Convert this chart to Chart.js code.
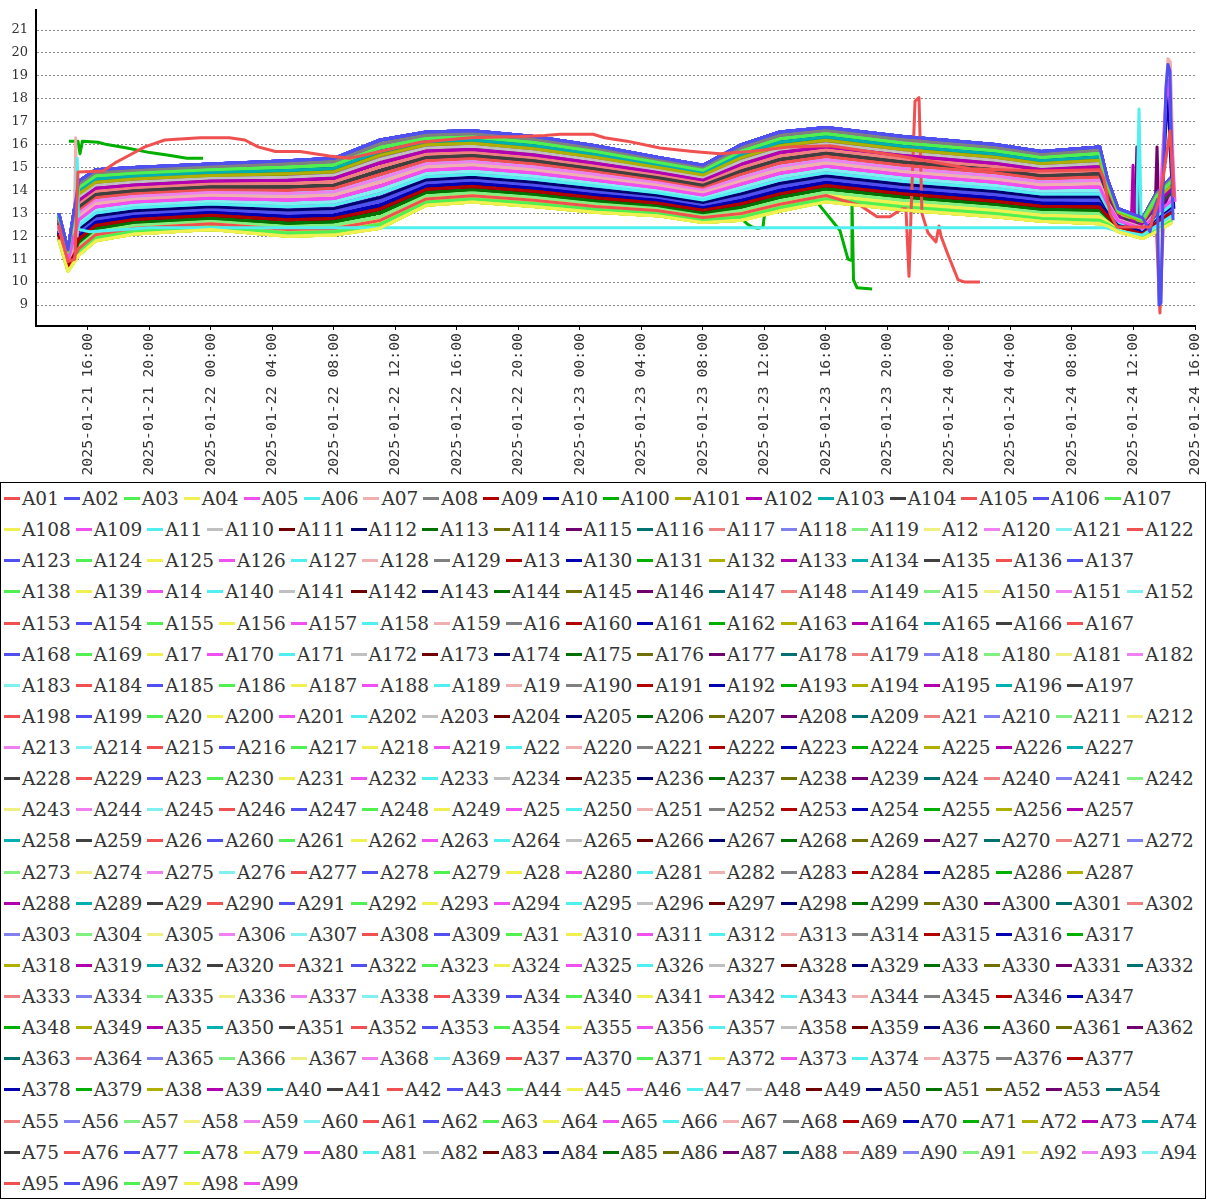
<!DOCTYPE html>
<html>
<head>
<meta charset="utf-8">
<script src="https://cdn.jsdelivr.net/npm/chart.js@4.4.1/dist/chart.umd.min.js"></script>
<style>
  body { margin: 0; background: #fff; }
  #wrap { position: relative; width: 1207px; height: 480px; }
  #legend {
    position: absolute; left: 0; top: 482px; width: 1206px; height: 717px;
    box-sizing: border-box; border: 1px solid #000; padding: 0 0 0 3px;
    display: flex; flex-wrap: wrap; align-content: flex-start;
  }
  #legend .item {
    display: inline-flex; align-items: center; height: 31.14px; margin-right: 5px;
    font-family: 'DejaVu Serif', serif; font-size: 18.5px; color: #333; white-space: nowrap;
  }
  #legend .item i { display: inline-block; width: 16px; height: 3px; margin-right: 2px; }
</style>
</head>
<body>
<div id="wrap"><canvas id="chart" width="1207" height="480"></canvas></div>
<div id="legend"></div>
<script>
// hours counted from 2025-01-21 00:00
const xTickHours = [16, 20, 24, 28, 32, 36, 40, 44, 48, 52, 56, 60, 64, 68, 72, 76, 80, 84, 88];
const xTickLabels = [
  '2025-01-21 16:00', '2025-01-21 20:00', '2025-01-22 00:00', '2025-01-22 04:00', '2025-01-22 08:00',
  '2025-01-22 12:00', '2025-01-22 16:00', '2025-01-22 20:00', '2025-01-23 00:00', '2025-01-23 04:00',
  '2025-01-23 08:00', '2025-01-23 12:00', '2025-01-23 16:00', '2025-01-23 20:00', '2025-01-24 00:00',
  '2025-01-24 04:00', '2025-01-24 08:00', '2025-01-24 12:00', '2025-01-24 16:00'
];
const yTicks = [9, 10, 11, 12, 13, 14, 15, 16, 17, 18, 19, 20, 21];

const palette = [
  '#f05050', '#5050f0', '#50f050', '#f0f050', '#f050f0', '#50f0f0', '#f0b0b0', '#808080',
  '#b00000', '#0000b0', '#00b000', '#b0b000', '#b000b0', '#00b0b0', '#404040',
  '#f05050', '#5050f0', '#50f050', '#f0f050', '#f050f0', '#50f0f0', '#c0c0c0',
  '#700000', '#000070', '#007000', '#707000', '#700070', '#007070',
  '#f08080', '#8080f0', '#80f080', '#f0f080', '#f080f0', '#80f0f0'
];
// which band stripe a series sits in, by its place in the colour cycle
const stripeByColour = [12, 16, 2, 23, 14, 10, 11, 1, 18, 17, 19, 4, 6, 3, 8, 9, 0,
  22, 21, 12, 14, 5, 18, 15, 19, 4, 5, 3, 7, 15, 20, 22, 10, 13];

// the dense band: at each hour, the 24 stripe levels read top to bottom
const bandHours = [14.1, 14.7, 15.4, 16.5, 19, 24, 29, 32, 35, 38, 41, 45, 49, 53, 56, 58.5, 61, 64, 69, 75, 78, 81.8, 82.3, 83.0, 84.6, 85.5, 86.5];
const bandLevels = [
  [13.0, 12.95, 12.9, 12.85, 12.8, 12.75, 12.7, 12.65, 12.6, 12.55, 12.5, 12.45, 12.4, 12.35, 12.3, 12.25, 12.2, 12.15, 12.1, 12.05, 12.0, 11.95, 11.9, 11.85],
  [11.4, 11.36, 11.32, 11.28, 11.24, 11.2, 11.16, 11.12, 11.08, 11.04, 11.0, 10.96, 10.92, 10.88, 10.84, 10.8, 10.76, 10.72, 10.68, 10.64, 10.6, 10.56, 10.52, 10.48],
  [14.4, 14.26, 14.12, 13.98, 13.84, 13.7, 13.56, 13.42, 13.28, 13.14, 13.0, 12.86, 12.72, 12.58, 12.44, 12.3, 12.16, 12.02, 11.88, 11.74, 11.6, 11.46, 11.32, 11.18],
  [14.9, 14.77, 14.63, 14.5, 14.36, 14.23, 14.09, 13.96, 13.82, 13.69, 13.55, 13.42, 13.28, 13.15, 13.01, 12.88, 12.74, 12.61, 12.47, 12.34, 12.2, 12.07, 11.93, 11.8],
  [15.0, 14.87, 14.75, 14.62, 14.5, 14.37, 14.24, 14.12, 13.99, 13.87, 13.74, 13.61, 13.49, 13.36, 13.24, 13.11, 12.98, 12.86, 12.73, 12.61, 12.48, 12.35, 12.23, 12.1],
  [15.15, 15.03, 14.9, 14.78, 14.65, 14.53, 14.41, 14.28, 14.16, 14.03, 13.91, 13.79, 13.66, 13.54, 13.41, 13.29, 13.17, 13.04, 12.92, 12.79, 12.67, 12.55, 12.42, 12.3],
  [15.3, 15.16, 15.01, 14.87, 14.73, 14.58, 14.44, 14.3, 14.15, 14.01, 13.87, 13.72, 13.58, 13.43, 13.29, 13.15, 13.0, 12.86, 12.72, 12.57, 12.43, 12.29, 12.14, 12.0],
  [15.4, 15.25, 15.11, 14.96, 14.82, 14.67, 14.53, 14.38, 14.23, 14.09, 13.94, 13.8, 13.65, 13.51, 13.36, 13.21, 13.07, 12.92, 12.78, 12.63, 12.49, 12.34, 12.2, 12.05],
  [16.2, 16.03, 15.87, 15.7, 15.53, 15.36, 15.2, 15.03, 14.86, 14.69, 14.53, 14.36, 14.19, 14.02, 13.86, 13.69, 13.52, 13.35, 13.19, 13.02, 12.85, 12.69, 12.52, 12.35],
  [16.55, 16.41, 16.27, 16.13, 15.99, 15.85, 15.72, 15.58, 15.44, 15.3, 15.16, 15.02, 14.88, 14.74, 14.6, 14.46, 14.32, 14.19, 14.05, 13.91, 13.77, 13.63, 13.49, 13.35],
  [16.6, 16.47, 16.33, 16.2, 16.06, 15.93, 15.79, 15.66, 15.52, 15.39, 15.25, 15.12, 14.98, 14.85, 14.71, 14.58, 14.44, 14.31, 14.17, 14.04, 13.9, 13.77, 13.63, 13.5],
  [16.35, 16.22, 16.09, 15.95, 15.82, 15.69, 15.55, 15.42, 15.29, 15.16, 15.02, 14.89, 14.76, 14.63, 14.49, 14.36, 14.23, 14.1, 13.96, 13.83, 13.7, 13.57, 13.43, 13.3],
  [15.95, 15.82, 15.7, 15.57, 15.45, 15.32, 15.19, 15.07, 14.94, 14.82, 14.69, 14.56, 14.44, 14.31, 14.19, 14.06, 13.93, 13.81, 13.68, 13.55, 13.43, 13.3, 13.18, 13.05],
  [15.45, 15.34, 15.23, 15.12, 15.01, 14.9, 14.79, 14.67, 14.56, 14.45, 14.34, 14.23, 14.12, 14.01, 13.9, 13.79, 13.68, 13.57, 13.45, 13.34, 13.23, 13.12, 13.01, 12.9],
  [15.1, 14.99, 14.88, 14.77, 14.67, 14.56, 14.45, 14.34, 14.23, 14.12, 14.01, 13.9, 13.8, 13.69, 13.58, 13.47, 13.36, 13.25, 13.14, 13.03, 12.93, 12.82, 12.71, 12.6],
  [16.0, 15.86, 15.71, 15.57, 15.43, 15.28, 15.14, 15.0, 14.85, 14.71, 14.56, 14.42, 14.28, 14.13, 13.99, 13.85, 13.7, 13.56, 13.42, 13.27, 13.13, 12.99, 12.84, 12.7],
  [16.55, 16.4, 16.25, 16.1, 15.95, 15.8, 15.65, 15.5, 15.35, 15.2, 15.05, 14.9, 14.75, 14.6, 14.45, 14.3, 14.15, 14.0, 13.85, 13.7, 13.55, 13.4, 13.25, 13.1],
  [16.75, 16.61, 16.47, 16.33, 16.19, 16.04, 15.9, 15.76, 15.62, 15.48, 15.34, 15.2, 15.05, 14.91, 14.77, 14.63, 14.49, 14.35, 14.21, 14.07, 13.92, 13.78, 13.64, 13.5],
  [16.35, 16.21, 16.07, 15.93, 15.79, 15.65, 15.52, 15.38, 15.24, 15.1, 14.96, 14.82, 14.68, 14.54, 14.4, 14.26, 14.12, 13.99, 13.85, 13.71, 13.57, 13.43, 13.29, 13.15],
  [16.0, 15.86, 15.73, 15.59, 15.45, 15.32, 15.18, 15.04, 14.9, 14.77, 14.63, 14.49, 14.36, 14.22, 14.08, 13.95, 13.81, 13.67, 13.53, 13.4, 13.26, 13.12, 12.99, 12.85],
  [15.7, 15.57, 15.44, 15.3, 15.17, 15.04, 14.9, 14.77, 14.64, 14.51, 14.37, 14.24, 14.11, 13.98, 13.84, 13.71, 13.58, 13.45, 13.31, 13.18, 13.05, 12.92, 12.78, 12.65],
  [15.9, 15.75, 15.61, 15.46, 15.32, 15.17, 15.03, 14.88, 14.73, 14.59, 14.44, 14.3, 14.15, 14.01, 13.86, 13.71, 13.57, 13.42, 13.28, 13.13, 12.99, 12.84, 12.7, 12.55],
  [14.5, 14.41, 14.32, 14.23, 14.14, 14.05, 13.97, 13.88, 13.79, 13.7, 13.61, 13.52, 13.43, 13.34, 13.25, 13.16, 13.07, 12.99, 12.9, 12.81, 12.72, 12.63, 12.54, 12.45],
  [13.2, 13.16, 13.11, 13.07, 13.03, 12.98, 12.94, 12.9, 12.85, 12.81, 12.77, 12.72, 12.68, 12.64, 12.59, 12.55, 12.5, 12.46, 12.42, 12.37, 12.33, 12.29, 12.24, 12.2],
  [12.8, 12.76, 12.72, 12.68, 12.64, 12.6, 12.57, 12.53, 12.49, 12.45, 12.41, 12.37, 12.33, 12.29, 12.25, 12.21, 12.17, 12.14, 12.1, 12.06, 12.02, 11.98, 11.94, 11.9],
  [13.9, 13.83, 13.75, 13.68, 13.6, 13.53, 13.46, 13.38, 13.31, 13.23, 13.16, 13.09, 13.01, 12.94, 12.87, 12.79, 12.72, 12.64, 12.57, 12.5, 12.42, 12.35, 12.27, 12.2],
  [14.6, 14.51, 14.42, 14.34, 14.25, 14.16, 14.08, 13.99, 13.9, 13.82, 13.73, 13.64, 13.56, 13.47, 13.38, 13.3, 13.21, 13.12, 13.04, 12.95, 12.86, 12.78, 12.69, 12.6]
];

// series that leave the band: [hour, value]
const a01Path = [[14.1, 12.5], [14.7, 10.9], [15.15, 11.0], [15.35, 14.8], [16.98, 14.85], [17.76, 15.2], [18.6, 15.5],
  [19.7, 15.9], [21.0, 16.2], [23.3, 16.3], [25.2, 16.3], [26.2, 16.2], [27.06, 15.9], [28.2, 15.7], [29.8, 15.7],
  [31.7, 15.5], [33.0, 15.4], [35.0, 15.7], [37.6, 16.1], [40.85, 16.3], [44.1, 16.35], [45.7, 16.4], [46.7, 16.45],
  [48.85, 16.45], [49.6, 16.3], [51.06, 16.15], [53.2, 15.85], [55.35, 15.7], [57.1, 15.6], [59.06, 15.7], [61.66, 15.9],
  [64.26, 15.95], [68.8, 15.5], [73.37, 14.95], [77.9, 14.85], [81.82, 14.9], [82.08, 14.5], [82.47, 13.0], [82.93, 12.4],
  [85.07, 12.4], [85.53, 13.3], [85.92, 14.5], [86.37, 16.6], [86.63, 13.7]];
const a100Path = [[14.76, 16.15], [15.35, 16.15], [15.48, 15.6], [15.64, 16.15], [16.65, 16.1], [17.24, 16.0],
  [18.54, 15.85], [20.03, 15.65], [21.14, 15.55], [22.44, 15.4], [23.48, 15.4]];
const a06Path = [[14.1, 12.97], [14.7, 11.0], [15.2, 12.0], [15.3, 15.4], [15.4, 12.3], [16.1, 12.2], [20, 12.37],
  [82.2, 12.37], [82.9, 12.25], [84.6, 12.05], [86.5, 12.9]];

const a07Start = [[15.1, 11.5], [15.2, 16.3], [15.3, 12.0]];
const a07End = [[85.72, 13.5], [86.05, 17.5], [86.24, 19.75], [86.4, 19.6], [86.63, 14.0]];
const a02End = [[85.07, 12.2], [85.4, 13.3], [85.56, 13.6], [85.66, 9.0], [85.79, 9.1], [85.92, 14.0], [86.11, 18.5],
  [86.24, 19.5], [86.37, 19.2], [86.57, 12.7]];
const a05End = [[85.72, 13.2], [86.11, 18.0], [86.3, 18.8], [86.5, 16.0], [86.7, 13.5]];
const a10End = [[85.5, 13.0], [85.85, 13.5], [86.11, 17.0], [86.24, 18.2], [86.44, 15.0], [86.63, 13.2]];
const a122End = [[85.07, 12.4], [85.46, 12.9], [85.66, 9.5], [85.72, 8.65], [85.82, 10.5], [85.98, 13.2], [86.24, 14.0], [86.57, 14.8]];
const a11Spike = [[84.2, 12.45], [84.36, 17.55], [84.5, 12.6]];
const a102Spike = [[83.85, 12.3], [83.97, 15.1], [84.08, 12.4]];
const a115Spike1 = [[84.1, 12.3], [84.22, 15.9], [84.34, 12.4]];
const a115Spike2 = [[85.4, 12.9], [85.53, 15.9], [85.66, 12.8]];
const a105Tail = [[66.21, 13.35], [67.32, 12.85], [68.16, 12.85], [68.94, 13.2], [69.2, 13.2], [69.4, 10.25], [69.53, 13.0],
  [69.79, 17.9], [70.05, 18.05], [70.24, 13.0], [70.63, 12.15], [71.15, 11.75], [71.35, 12.45], [71.48, 12.0],
  [71.93, 11.2], [72.59, 10.1], [73.04, 10.0], [74.02, 10.0]];
const a131Tail = [[63.28, 13.6], [64.91, 12.25], [65.43, 11.0], [65.63, 10.95], [65.69, 13.6], [65.79, 10.1], [66.02, 9.75], [67.0, 9.7]];
const a162Dip = [[58.52, 12.75], [58.86, 12.55], [59.19, 12.4], [59.58, 12.35], [59.9, 12.4], [60.03, 13.1]];

const specials = {
  A01: { path: a01Path },
  A100: { path: a100Path },
  A06: { path: a06Path },
  A02: { stripe: 0, pieces: [a02End], cut: true },
  A115: { stripe: 5, pieces: [a115Spike1, a115Spike2] },
  A102: { stripe: 6, pieces: [a102Spike] },
  A122: { stripe: 9, pieces: [a122End], cut: true },
  A07: { stripe: 11, pieces: [a07Start, a07End], cut: true },
  A05: { stripe: 12, pieces: [a05End], cut: true },
  A11: { stripe: 14, pieces: [a11Spike] },
  A10: { stripe: 17, pieces: [a10End], cut: true },
  A105: { stripe: 21, pieces: [a105Tail], cut: true },
  A131: { stripe: 22, pieces: [a131Tail], cut: true },
  A162: { stripe: 23, pieces: [a162Dip] }
};

const names = [];
for (let n = 1; n <= 379; n++) names.push('A' + String(n).padStart(2, '0'));
names.sort();

function stripePoints(k) {
  return bandHours.map((h, i) => ({ x: h, y: bandLevels[i][k] }));
}

function seriesData(name, i) {
  const s = specials[name];
  if (s && s.path) return s.path.map(([x, y]) => ({ x, y }));
  let pts = stripePoints(s ? s.stripe : stripeByColour[i % palette.length]);
  if (s) {
    s.pieces.forEach((piece, j) => {
      const x0 = piece[0][0], x1 = piece[piece.length - 1][0];
      const last = s.cut && j === s.pieces.length - 1;
      pts = pts.filter(p => p.x < x0 || (!last && p.x > x1));
      pts = pts.concat(piece.map(([x, y]) => ({ x, y })));
    });
    pts.sort((a, b) => a.x - b.x);
  }
  return pts;
}

const datasets = names.map((name, i) => ({
  label: name,
  data: seriesData(name, i),
  borderColor: palette[i % palette.length],
  backgroundColor: palette[i % palette.length],
  borderWidth: 3,
  borderJoinStyle: 'round',
  pointRadius: 0,
  fill: false,
  tension: 0
}));

const htmlLegend = {
  id: 'htmlLegend',
  afterUpdate(chart) {
    const box = document.getElementById('legend');
    box.innerHTML = '';
    chart.options.plugins.legend.labels.generateLabels(chart).forEach(item => {
      const el = document.createElement('span');
      el.className = 'item';
      const mark = document.createElement('i');
      mark.style.background = item.strokeStyle;
      el.appendChild(mark);
      el.appendChild(document.createTextNode(item.text));
      box.appendChild(el);
    });
  }
};

Chart.defaults.color = '#333';

new Chart(document.getElementById('chart'), {
  type: 'line',
  data: { datasets },
  plugins: [htmlLegend],
  options: {
    responsive: false,
    animation: false,
    events: [],
    layout: { padding: { top: 10, right: 12, left: 0, bottom: 0 } },
    plugins: { legend: { display: false }, tooltip: { enabled: false } },
    scales: {
      x: {
        type: 'linear',
        min: 12.62,
        max: 88,
        afterBuildTicks: (scale) => { scale.ticks = xTickHours.map(v => ({ value: v })); },
        afterFit: (scale) => {
          scale.height = 154;
          scale.paddingLeft = 0;
          scale.paddingRight = 0;
        },
        ticks: {
          autoSkip: false,
          minRotation: 90,
          maxRotation: 90,
          padding: 3,
          font: { family: 'DejaVu Sans Mono', size: 14.8 },
          callback: (v) => xTickLabels[xTickHours.indexOf(v)]
        },
        grid: { drawOnChartArea: false, tickLength: 4, color: '#000' },
        border: { color: '#000', width: 2 }
      },
      y: {
        min: 8.084,
        max: 21.873,
        afterBuildTicks: (scale) => { scale.ticks = yTicks.map(v => ({ value: v })); },
        afterFit: (scale) => {
          scale.width = 36;
          scale.paddingTop = 0;
          scale.paddingBottom = 0;
        },
        ticks: { padding: 8, font: { family: 'DejaVu Serif', size: 13 } },
        grid: { color: '#888', lineWidth: 1, drawTicks: false },
        border: { color: '#000', width: 2, dash: [2, 2] }
      }
    }
  }
});
</script>
</body>
</html>
